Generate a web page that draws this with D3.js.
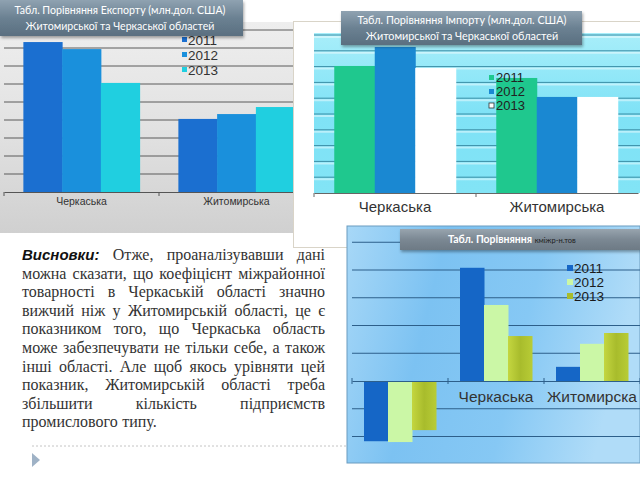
<!DOCTYPE html>
<html><head><meta charset="utf-8">
<script src="https://cdn.jsdelivr.net/npm/d3@7"></script>
<style>html,body{margin:0;padding:0;background:#fff;}svg{display:block;}</style>
</head><body>
<script>
// ---- data ----
const years = ["2011", "2012", "2013"];
const exportCats = ["Черкаська", "Житомирська"];
const export2011 = [8.33, 4.06];
const export2012 = [7.94, 4.33];
const export2013 = [6.06, 4.72];
const importCats = ["Черкаська", "Житомирська"];
const import2011 = [8.04, 7.28];
const import2012 = [9.24, 6.08];
const import2013 = [7.91, 6.08];
const coefCats = ["", "Черкаська", "Житомирска"];
const coef2011 = [-2.17, 4.08, 0.51];
const coef2012 = [-2.2, 2.74, 1.34];
const coef2013 = [-1.77, 1.62, 1.73];
const exportTitle = ["Табл. Порівняння Експорту (млн.дол. США)", "Житомирської та Черкаської областей"];
const importTitle = ["Табл. Порівняння Імпорту (млн.дол. США)", "Житомирської та Черкаської областей"];
const coefTitle = ["Табл. Порівняння ", "кміжр-н.тов"];
const textLines = [
  [["Висновки:", true], ["Отже,"], ["проаналізувавши"], ["дані"]],
  [["можна"], ["сказати,"], ["що"], ["коефіцієнт"], ["міжрайонної"]],
  [["товарності"], ["в"], ["Черкаській"], ["області"], ["значно"]],
  [["вижчий"], ["ніж"], ["у"], ["Житомирській"], ["області,"], ["це"], ["є"]],
  [["показником"], ["того,"], ["що"], ["Черкаська"], ["область"]],
  [["може"], ["забезпечувати"], ["не"], ["тільки"], ["себе,"], ["а"], ["також"]],
  [["інші"], ["області."], ["Але"], ["щоб"], ["якось"], ["урівняти"], ["цей"]],
  [["показник,"], ["Житомирській"], ["області"], ["треба"]],
  [["збільшити"], ["кількість"], ["підприємств"]],
  [["промислового"], ["типу."]]
];

const svg = d3.select("body").append("svg").attr("width", 640).attr("height", 480);
const defs = svg.append("defs");
function lin(id, stops, x2, y2) {
  const g = defs.append("linearGradient").attr("id", id)
    .attr("x1", 0).attr("y1", 0).attr("x2", x2).attr("y2", y2);
  stops.forEach((c, i) => g.append("stop").attr("offset", i / (stops.length - 1)).attr("stop-color", c));
}
lin("g1bg", ["#eeeeee", "#e2e2e2", "#d0d0d0"], 0, 1);
lin("titleG", ["#8fa2b1", "#6b8192", "#5a6f80"], 0, 1);
lin("title3G", ["#98a4ae", "#7b8893", "#6d7a85"], 0, 1);
lin("g3bg", ["#a8d8f7", "#7cc2f2", "#86c8f4", "#b0dcf8"], 1, 0.2);
lin("olive", ["#c4d640", "#a8bc2c", "#b8cc36"], 1, 0);
lin("cyanbg", ["#a8eefa", "#7fe2f6", "#82e4f6"], 0, 1);
const sh = defs.append("filter").attr("id", "sh").attr("x", -0.1).attr("y", -0.2).attr("width", 1.2).attr("height", 1.6);
sh.append("feDropShadow").attr("dx", 1).attr("dy", 2).attr("stdDeviation", 1.5).attr("flood-color", "#000").attr("flood-opacity", 0.35);
defs.append("clipPath").attr("id", "c1").append("rect").attr("x", 0).attr("y", 0).attr("width", 293).attr("height", 240);

const legendFont = "Liberation Sans, Arial";

// ---------- chart 1 : export ----------
const c1 = svg.append("g").attr("clip-path", "url(#c1)");
c1.append("rect").attr("x", 0).attr("y", 22).attr("width", 293).attr("height", 211).attr("fill", "url(#g1bg)");
const x1 = d3.scaleBand().domain(exportCats).range([4, 314]).paddingInner(0.25).paddingOuter(0.125);
const xs1 = d3.scaleBand().domain(years).range([0, x1.bandwidth()]);
const y1 = d3.scaleLinear().domain([0, 9]).range([192, 30]);
c1.selectAll("line.grid").data(d3.range(1, 10)).join("line")
  .attr("x1", 4).attr("x2", 314).attr("y1", d => y1(d)).attr("y2", d => y1(d))
  .attr("stroke", "#5a5a5a").attr("stroke-width", 1);
const exportSeries = [export2011, export2012, export2013];
const colors1 = ["#1b6fd0", "#1a90dc", "#20cfe0"];
exportSeries.forEach((s, si) => {
  c1.selectAll(null).data(exportCats).join("rect")
    .attr("x", (d) => x1(d) + xs1(years[si])).attr("width", xs1.bandwidth() + 0.5)
    .attr("y", (d, i) => y1(s[i])).attr("height", (d, i) => y1(0) - y1(s[i]))
    .attr("fill", colors1[si]);
});
const ax1 = c1.append("g").attr("transform", "translate(0,192)")
  .call(d3.axisBottom(x1).tickSize(0).tickSizeOuter(0));
ax1.select(".domain").attr("stroke", "#555");
ax1.selectAll("text").attr("font-family", "Liberation Sans, Arial").attr("font-size", 10.5).attr("fill", "#333").attr("dy", "0.95em");
c1.selectAll("line.tk").data([4, 159]).join("line").attr("x1", d => d).attr("x2", d => d)
  .attr("y1", 192).attr("y2", 196).attr("stroke", "#555");
const lg1 = c1.append("g").attr("font-family", legendFont).attr("font-size", 13.5).attr("fill", "#333");
years.forEach((yv, i) => {
  lg1.append("rect").attr("x", 182).attr("y", 37 + i * 15).attr("width", 5).attr("height", 5).attr("fill", colors1[i]);
  lg1.append("text").attr("x", 188).attr("y", 44.5 + i * 15).text(yv);
});

// ---------- chart 2 : import ----------
svg.append("rect").attr("x", 293.5).attr("y", 21.5).attr("width", 350).attr("height", 226)
  .attr("fill", "#fff").attr("stroke", "#d9d4c8");
svg.append("rect").attr("x", 314).attr("y", 33).attr("width", 326).attr("height", 160).attr("fill", "url(#cyanbg)");
const x2 = d3.scaleBand().domain(importCats).range([314, 638]).paddingInner(0.25).paddingOuter(0.125);
const xs2 = d3.scaleBand().domain(years).range([0, x2.bandwidth()]);
const y2 = d3.scaleLinear().domain([0, 10]).range([193, 35]);
const c2 = svg.append("g");
c2.selectAll("line.hl").data(d3.range(1, 11)).join("line")
  .attr("x1", 314).attr("x2", 640).attr("y1", d => y2(d) + 2).attr("y2", d => y2(d) + 2)
  .attr("stroke", "rgba(255,255,255,0.45)").attr("stroke-width", 2);
c2.selectAll("line.grid").data(d3.range(1, 11)).join("line")
  .attr("x1", 314).attr("x2", 640).attr("y1", d => y2(d)).attr("y2", d => y2(d))
  .attr("stroke", "#3b8ea6").attr("stroke-width", 1);
const importSeries = [import2011, import2012, import2013];
const colors2 = ["#1fc88e", "#1a88d2", "#ffffff"];
importSeries.forEach((s, si) => {
  c2.selectAll(null).data(importCats).join("rect")
    .attr("x", (d) => x2(d) + xs2(years[si])).attr("width", xs2.bandwidth() + 0.5)
    .attr("y", (d, i) => y2(s[i])).attr("height", (d, i) => y2(0) - y2(s[i]))
    .attr("fill", colors2[si]);
});
const ax2 = c2.append("g").attr("transform", "translate(0,193)")
  .call(d3.axisBottom(x2).tickSize(0).tickSizeOuter(0));
ax2.select(".domain").attr("stroke", "#666");
ax2.selectAll("text").attr("font-family", "Liberation Sans, Arial").attr("font-size", 15).attr("fill", "#333").attr("dy", "1.05em");
c2.selectAll("line.tk").data([314, 476]).join("line").attr("x1", d => d).attr("x2", d => d)
  .attr("y1", 193).attr("y2", 197).attr("stroke", "#666");
const lg2 = c2.append("g").attr("font-family", legendFont).attr("font-size", 13).attr("fill", "#222");
years.forEach((yv, i) => {
  lg2.append("rect").attr("x", 489).attr("y", 75 + i * 14).attr("width", 5).attr("height", 5)
    .attr("fill", colors2[i]).attr("stroke", i === 2 ? "#333" : "none").attr("stroke-width", 0.8);
  lg2.append("text").attr("x", 496).attr("y", 82 + i * 14).text(yv);
});

// ---------- chart 3 : coefficient ----------
svg.append("rect").attr("x", 347).attr("y", 226).attr("width", 293).attr("height", 237)
  .attr("fill", "url(#g3bg)").attr("stroke", "#6a9cc0").attr("stroke-width", 1);
const x3 = d3.scaleBand().domain(coefCats).range([352, 640]).paddingInner(0.25).paddingOuter(0.125);
const xs3 = d3.scaleBand().domain(years).range([0, x3.bandwidth()]);
const y3 = d3.scaleLinear().domain([-2, 5]).range([436.5, 242.25]);
const c3 = svg.append("g");
c3.selectAll("line.grid").data(d3.range(-2, 6).filter(v => v !== 0)).join("line")
  .attr("x1", 352).attr("x2", 640).attr("y1", d => y3(d)).attr("y2", d => y3(d))
  .attr("stroke", "#2d5f8a").attr("stroke-width", 1);
const coefSeries = [coef2011, coef2012, coef2013];
const colors3 = ["#1566c6", "#cbf7a6", "url(#olive)"];
coefSeries.forEach((s, si) => {
  c3.selectAll(null).data(coefCats).join("rect")
    .attr("x", (d) => x3(d) + xs3(years[si])).attr("width", xs3.bandwidth() + 0.5)
    .attr("y", (d, i) => Math.min(y3(s[i]), y3(0))).attr("height", (d, i) => Math.abs(y3(0) - y3(s[i])))
    .attr("fill", colors3[si]);
});
const ax3 = c3.append("g").attr("transform", `translate(0,${y3(0)})`)
  .call(d3.axisBottom(x3).tickSize(0).tickSizeOuter(0));
ax3.select(".domain").attr("stroke", "#2d5f8a");
ax3.selectAll("text").attr("font-family", "Liberation Sans, Arial").attr("font-size", 15.5).attr("fill", "#333").attr("dy", "1.15em");
c3.selectAll("line.tk").data([352, 448, 544, 640]).join("line").attr("x1", d => d).attr("x2", d => d)
  .attr("y1", y3(0) - 3).attr("y2", y3(0) + 3).attr("stroke", "#2d5f8a");
const lg3 = c3.append("g").attr("font-family", legendFont).attr("font-size", 13.5).attr("fill", "#1a1a1a");
const legCol3 = ["#1566c6", "#cbf7a6", "#a8bc2c"];
years.forEach((yv, i) => {
  lg3.append("rect").attr("x", 567).attr("y", 265 + i * 14).attr("width", 6).attr("height", 6).attr("fill", legCol3[i]);
  lg3.append("text").attr("x", 574).attr("y", 273 + i * 14).text(yv);
});

// ---------- title boxes ----------
function titleBox(x, y, w, h, lines, fill, cx, base, fs) {
  const g = svg.append("g");
  g.append("rect").attr("x", x).attr("y", y).attr("width", w).attr("height", h).attr("fill", fill).attr("filter", "url(#sh)");
  lines.forEach((t, i) => g.append("text").attr("x", cx).attr("y", base + i * 16).attr("text-anchor", "middle")
    .attr("font-family", "Lato, Open Sans, sans-serif").attr("font-size", fs).attr("fill", "#fff")
    .text(t));
}
titleBox(0, 0, 243, 36, exportTitle, "url(#titleG)", 120, 14, 10.6);
titleBox(341, 11, 241, 34, importTitle, "url(#titleG)", 462, 24, 10.8);
{
  const g = svg.append("g");
  g.append("rect").attr("x", 400).attr("y", 229).attr("width", 240).attr("height", 21).attr("fill", "url(#title3G)").attr("filter", "url(#sh)");
  const t = g.append("text").attr("x", 448).attr("y", 243).attr("font-family", "Lato, Open Sans, sans-serif");
  t.append("tspan").attr("font-size", 10.5).attr("font-weight", "bold").attr("fill", "#fff").text(coefTitle[0]);
  t.append("tspan").attr("font-size", 7.5).attr("fill", "#1e1e1e").text(coefTitle[1]);
}

// ---------- text ----------
const tg = svg.append("g");
const left = 22, right = 325, base0 = 260, lh = 18.6;
textLines.forEach((words, li) => {
  const y = base0 + li * lh;
  const nodes = words.map(([w, bold]) => tg.append("text").attr("y", y)
    .attr("font-family", bold ? "Liberation Sans, Arial" : "Liberation Serif, Times New Roman, serif")
    .attr("font-size", bold ? 15 : 16).attr("font-weight", bold ? "bold" : "normal")
    .attr("font-style", bold ? "italic" : "normal").attr("fill", bold ? "#111" : "#333").text(w));
  const widths = nodes.map(n => n.node().getComputedTextLength());
  const total = d3.sum(widths);
  const last = li === textLines.length - 1;
  const gap = last ? 4.5 : (right - left - total) / (words.length - 1);
  let x = left;
  nodes.forEach((n, i) => { n.attr("x", x); x += widths[i] + gap; });
});
svg.append("line").attr("x1", 32).attr("x2", 347).attr("y1", 446).attr("y2", 446)
  .attr("stroke", "#c4c4c4").attr("stroke-dasharray", "2,2");
svg.append("path").attr("d", "M32,453 L40,460 L32,467 Z").attr("fill", "#9fb2c6");
</script>
</body></html>
